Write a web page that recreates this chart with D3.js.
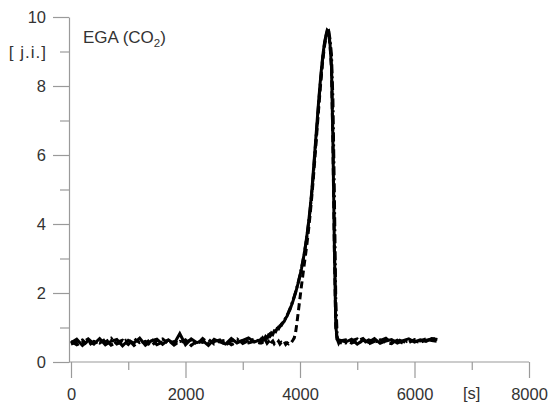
<!DOCTYPE html>
<html>
<head>
<meta charset="utf-8">
<script src="https://cdn.jsdelivr.net/npm/d3@7"></script>
<style>
  html, body { margin: 0; padding: 0; background: #fff; }
  svg { display: block; }
  text { font-family: "Liberation Sans", Arial, sans-serif; fill: #333; }
</style>
</head>
<body>
<svg id="chart" width="551" height="405"></svg>
<script>
// ---- data ----
const time = [0,100,200,300,400,500,600,700,800,900,1000,1100,1200,1300,1400,1500,1600,1700,1800,1900,2000,2100,2200,2300,2400,2500,2600,2700,2800,2900,3000,3100,3200,
  3300,3325,3350,3375,3400,3425,3450,3475,3500,3525,3550,3575,3600,3625,3650,3675,3700,3725,3750,3775,3800,3825,3850,3875,3900,3925,3950,3975,4000,4025,4050,4075,4100,4125,4150,4175,4200,4225,4250,4275,4300,4325,4350,4375,4400,4425,4450,4475,4500,4525,4550,4575,4600,4625,4650,4675,4700,
  4800,4900,5000,5100,5200,5300,5400,5500,5600,5700,5800,5900,6000,6100,6200,6300,6400];

const seriesSolid = [0.56,0.66,0.48,0.62,0.52,0.68,0.50,0.60,0.65,0.47,0.63,0.55,0.69,0.49,0.61,0.66,0.51,0.64,0.53,0.82,0.50,0.67,0.56,0.62,0.48,0.66,0.58,0.52,0.68,0.55,0.63,0.70,0.58,
  0.64,0.60,0.70,0.66,0.74,0.70,0.78,0.75,0.84,0.80,0.90,0.88,0.97,0.96,1.05,1.06,1.14,1.18,1.27,1.33,1.44,1.52,1.64,1.75,1.89,2.02,2.18,2.33,2.51,2.70,2.92,3.15,3.42,3.72,4.05,4.42,4.85,5.35,5.90,6.45,7.00,7.55,8.05,8.50,8.90,9.22,9.45,9.62,9.58,9.20,8.55,6.40,3.40,1.05,0.66,0.55,0.63,
  0.58,0.66,0.52,0.63,0.57,0.68,0.54,0.61,0.65,0.55,0.62,0.67,0.58,0.64,0.60,0.68,0.65];

const seriesDashed = [0.52,0.58,0.64,0.47,0.60,0.55,0.66,0.49,0.57,0.63,0.51,0.68,0.56,0.60,0.46,0.62,0.67,0.53,0.59,0.55,0.64,0.48,0.61,0.57,0.66,0.52,0.60,0.63,0.50,0.58,0.62,0.55,0.60,
  0.55,0.60,0.52,0.58,0.62,0.54,0.59,0.50,0.57,0.61,0.53,0.58,0.55,0.60,0.52,0.57,0.54,0.59,0.51,0.56,0.53,0.58,0.57,0.63,0.70,0.88,1.18,1.52,1.86,2.20,2.52,2.84,3.15,3.48,3.84,4.24,4.68,5.16,5.68,6.22,6.78,7.32,7.85,8.33,8.76,9.12,9.40,9.58,9.56,9.18,8.50,6.30,3.30,1.00,0.62,0.58,0.61,
  0.64,0.55,0.61,0.68,0.52,0.60,0.64,0.57,0.53,0.66,0.59,0.56,0.65,0.61,0.67,0.62,0.60];

const seriesDashDot = [0.60,0.50,0.57,0.67,0.53,0.61,0.58,0.69,0.52,0.59,0.66,0.48,0.62,0.54,0.67,0.50,0.58,0.63,0.49,0.60,0.57,0.65,0.51,0.68,0.55,0.59,0.64,0.49,0.61,0.67,0.54,0.62,0.66,
  0.60,0.67,0.63,0.72,0.68,0.76,0.73,0.81,0.79,0.87,0.85,0.93,0.93,1.01,1.02,1.10,1.13,1.21,1.27,1.36,1.44,1.55,1.65,1.78,1.90,2.04,2.19,2.35,2.52,2.71,2.92,3.14,3.40,3.70,4.02,4.38,4.80,5.28,5.82,6.38,6.92,7.48,7.98,8.44,8.85,9.18,9.42,9.58,9.60,9.35,8.90,7.60,4.90,1.80,0.72,0.60,0.56,
  0.55,0.62,0.67,0.54,0.64,0.58,0.62,0.69,0.56,0.63,0.54,0.64,0.61,0.57,0.63,0.66,0.68];

const xMajorTicks = [0, 2000, 4000, 6000, 8000];
const xMinorTicks = [1000, 3000, 5000, 7000];
const yMajorTicks = [0, 2, 4, 6, 8, 10];
const yMinorTicks = [1, 3, 5, 7, 9];

// ---- chart ----
const svg = d3.select("#chart");
const axisX0 = 69;   // y-axis line position
const x = d3.scaleLinear().domain([0, 8000]).range([71, 529]);
const y = d3.scaleLinear().domain([0, 10]).range([362, 17]);
const axisColor = "#9a9a9a";
const fontFam = "'Liberation Sans', Arial, sans-serif";

// Y axis
const gyMinor = svg.append("g").attr("transform", `translate(${axisX0},0)`)
  .call(d3.axisLeft(y).tickValues(yMinorTicks).tickSize(9).tickSizeOuter(0).tickFormat(""));
gyMinor.select(".domain").remove();
const gy = svg.append("g").attr("transform", `translate(${axisX0},0)`)
  .call(d3.axisLeft(y).tickValues(yMajorTicks).tickSize(16).tickSizeOuter(0).tickPadding(7).tickFormat(d3.format("d")));
[gy, gyMinor].forEach(g => {
  g.selectAll("line").attr("stroke", axisColor).attr("stroke-width", 1.2);
  g.selectAll(".domain").attr("stroke", axisColor).attr("stroke-width", 1.2);
  g.selectAll("text").attr("font-size", 16.5).attr("fill", "#333").attr("dy", "0.36em")
    .style("font-family", fontFam);
});

// X axis
const gxMinor = svg.append("g").attr("transform", "translate(0,362)")
  .call(d3.axisBottom(x).tickValues(xMinorTicks).tickSize(8).tickSizeOuter(0).tickFormat(""));
gxMinor.select(".domain").remove();
const gx = svg.append("g").attr("transform", "translate(0,362)")
  .call(d3.axisBottom(x).tickValues(xMajorTicks).tickSize(16).tickSizeOuter(0).tickPadding(10).tickFormat(d3.format("d")));
gx.select(".domain").attr("d", `M${axisX0},0H${x(8000)}`);
[gx, gxMinor].forEach(g => {
  g.selectAll("line").attr("stroke", axisColor).attr("stroke-width", 1.2);
  g.selectAll(".domain").attr("stroke", axisColor).attr("stroke-width", 1.2);
  g.selectAll("text").attr("font-size", 16.5).attr("fill", "#333")
    .style("font-family", fontFam);
});

// axis unit labels
svg.append("text").attr("x", x(7000)).attr("y", 399).attr("text-anchor", "middle")
  .attr("font-size", 16.5).text("[s]");
svg.append("text").attr("x", 47).attr("y", 57.5).attr("text-anchor", "end")
  .attr("font-size", 17).attr("letter-spacing", 1).style("white-space", "pre").text("[ j.i.]");

// title
const t = svg.append("text").attr("x", 83).attr("y", 42.5).attr("font-size", 17);
t.append("tspan").text("EGA (CO");
t.append("tspan").attr("font-size", 11.5).attr("dy", 4).text("2");
t.append("tspan").attr("dy", -4).text(")");

// lines
const line = d3.line().x(d => x(d[0])).y(d => y(d[1]));
const mk = vals => time.map((tt, i) => [tt, vals[i]]);

svg.append("path").datum(mk(seriesDashDot))
  .attr("fill", "none").attr("stroke", "#000").attr("stroke-width", 3)
  .attr("stroke-dasharray", "9,3,2,3").attr("d", line);
svg.append("path").datum(mk(seriesDashed))
  .attr("fill", "none").attr("stroke", "#000").attr("stroke-width", 3)
  .attr("stroke-dasharray", "7,4").attr("d", line);
svg.append("path").datum(mk(seriesSolid))
  .attr("fill", "none").attr("stroke", "#000").attr("stroke-width", 3)
  .attr("d", line);
</script>
</body>
</html>
